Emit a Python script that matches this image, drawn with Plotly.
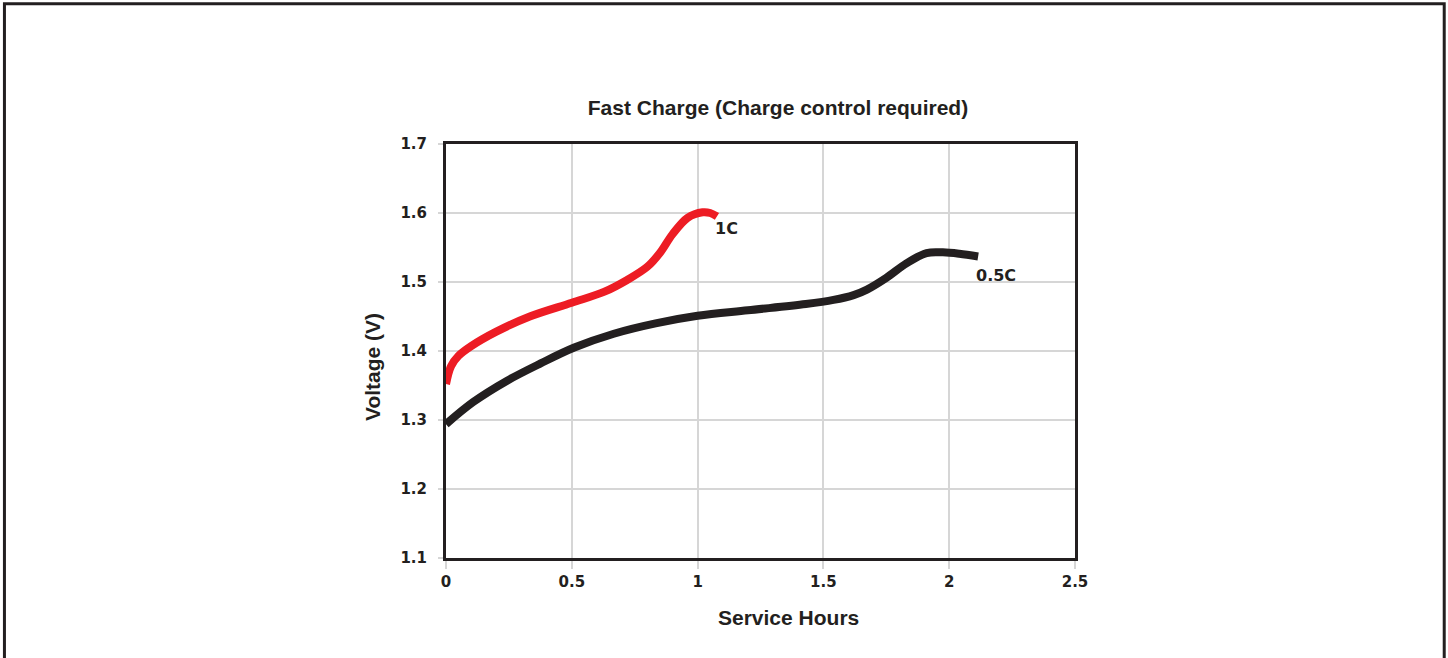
import plotly.graph_objects as go

# Data
x_1c = [0.0, 0.02, 0.05, 0.1, 0.2, 0.333, 0.5, 0.63, 0.72, 0.80, 0.85, 0.90, 0.96, 1.02, 1.05, 1.077]
y_1c = [1.352, 1.378, 1.393, 1.407, 1.428, 1.450, 1.470, 1.486, 1.503, 1.522, 1.542, 1.569, 1.593, 1.601, 1.600, 1.595]

x_05c = [0.0, 0.108, 0.243, 0.376, 0.51, 0.667, 0.833, 1.0, 1.2, 1.43, 1.54, 1.62, 1.673, 1.75, 1.83, 1.91, 1.975, 2.04, 2.115]
y_05c = [1.294, 1.326, 1.357, 1.382, 1.405, 1.425, 1.440, 1.451, 1.459, 1.468, 1.474, 1.481, 1.489, 1.506, 1.527, 1.542, 1.543, 1.541, 1.537]

x_ticks = [0, 0.5, 1, 1.5, 2, 2.5]
x_tick_labels = ["0", "0.5", "1", "1.5", "2", "2.5"]
y_ticks = [1.1, 1.2, 1.3, 1.4, 1.5, 1.6, 1.7]
y_tick_labels = ["1.1", "1.2", "1.3", "1.4", "1.5", "1.6", "1.7"]

series_labels = ["1C", "0.5C"]

DARK = "#231f20"
RED = "#ed1c24"
GRID = "#d6d6d6"
FONT = "Arial, Liberation Sans, Helvetica, sans-serif"
WIDE = "DejaVu Sans, Verdana, sans-serif"

fig = go.Figure()
fig.add_trace(go.Scatter(x=x_05c, y=y_05c, mode="lines", name=series_labels[1],
                         line=dict(color=DARK, width=8, shape="spline", smoothing=1.0)))
fig.add_trace(go.Scatter(x=x_1c, y=y_1c, mode="lines", name=series_labels[0],
                         line=dict(color=RED, width=8, shape="spline", smoothing=1.0)))

fig.add_annotation(x=1.077, y=1.578, text="<b>1C</b>", showarrow=False, xanchor="left",
                   yanchor="middle", font=dict(family=WIDE, size=16, color=DARK), xshift=-4)
fig.add_annotation(x=2.115, y=1.510, text="<b>0.5C</b>", showarrow=False, xanchor="left",
                   yanchor="middle", font=dict(family=WIDE, size=16, color=DARK), xshift=-4)

# Axis titles
fig.add_annotation(xref="paper", yref="paper", x=(788 - 446) / 629, y=0, yshift=-59,
                   text="<b>Service Hours</b>", showarrow=False, xanchor="center", yanchor="middle",
                   font=dict(family=FONT, size=21, color=DARK))
fig.add_annotation(xref="paper", yref="paper", x=0, xshift=-74, y=(558 - 367) / 414,
                   text="<b>Voltage (V)</b>", showarrow=False, textangle=-90,
                   xanchor="center", yanchor="middle",
                   font=dict(family=FONT, size=21, color=DARK))

# Outer frame (left, top, right)
fig.add_shape(type="path", xref="paper", yref="paper",
              path="M -0.702,-0.4 L -0.702,1.339 L 1.587,1.339 L 1.587,-0.4",
              line=dict(color=DARK, width=3))

fig.update_layout(
    width=1448, height=658,
    margin=dict(l=446, r=373, t=144, b=100),
    paper_bgcolor="white", plot_bgcolor="white",
    showlegend=False,
    title=dict(text="<b>Fast Charge (Charge control required)</b>", x=778/1448, xanchor="center",
               y=1 - 108/658, yanchor="middle", font=dict(family=FONT, size=21, color=DARK)),
    xaxis=dict(range=[0, 2.5], tickvals=x_ticks, ticktext=[f"<b>{t}</b>" for t in x_tick_labels],
               showgrid=True, gridcolor=GRID, gridwidth=2, zeroline=False,
               showline=True, linecolor=DARK, linewidth=3, mirror=True,
               ticks="outside", ticklen=8, tickcolor=GRID, tickwidth=2,
               tickfont=dict(family=WIDE, size=15, color=DARK), ticklabelstandoff=0),
    yaxis=dict(range=[1.1, 1.7], tickvals=y_ticks, ticktext=[f"<b>{t}</b>" for t in y_tick_labels],
               showgrid=True, gridcolor=GRID, gridwidth=2, zeroline=False,
               showline=True, linecolor=DARK, linewidth=3, mirror=True,
               ticks="outside", ticklen=5, tickcolor=GRID, tickwidth=2,
               tickfont=dict(family=WIDE, size=15, color=DARK), ticklabelstandoff=8),
)

fig.write_html("out.html", config={"displayModeBar": False},
               post_script="document.body.style.margin='0';document.body.style.overflow='hidden';")
